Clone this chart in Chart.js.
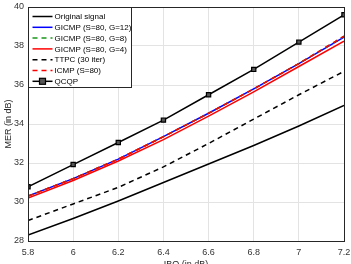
<!DOCTYPE html>
<html>
<head>
<meta charset="utf-8">
<script src="https://cdn.jsdelivr.net/npm/chart.js@4"></script>
<style>
  html, body { margin: 0; padding: 0; background: #fff; }
  #wrap { width: 351px; height: 264px; }
</style>
</head>
<body>
<div id="wrap"><canvas id="merChart" width="351" height="264"></canvas></div>
<script>
// IBO values (x axis) and MER curves
const ibo = [5.8, 6.0, 6.2, 6.4, 6.6, 6.8, 7.0, 7.2];
const original = [28.3, 29.15, 30.05, 31.0, 31.95, 32.9, 33.9, 34.95];
const gicmpG12 = [30.3, 31.2, 32.2, 33.35, 34.55, 35.8, 37.1, 38.45];
const gicmpG8 = [30.3, 31.2, 32.2, 33.35, 34.55, 35.8, 37.1, 38.5];
const gicmpG4 = [30.2, 31.1, 32.1, 33.2, 34.4, 35.65, 36.95, 38.25];
const ttpc = [29.05, 29.9, 30.75, 31.8, 33.0, 34.25, 35.5, 36.7];
const icmp = [30.3, 31.2, 32.2, 33.35, 34.55, 35.8, 37.1, 38.5];
const qcqp = [30.78, 31.92, 33.05, 34.2, 35.5, 36.8, 38.2, 39.6];
const xTicks = [5.8, 6, 6.2, 6.4, 6.6, 6.8, 7, 7.2];
const yTicks = [28, 30, 32, 34, 36, 38, 40];

const pts = arr => arr.map((v, i) => ({ x: ibo[i], y: v }));

const series = [
  { label: 'Original signal', data: original, color: '#000000', dash: [] },
  { label: 'GICMP (S=80, G=12)', data: gicmpG12, color: '#0000ff', dash: [] },
  { label: 'GICMP (S=80, G=8)', data: gicmpG8, color: '#1a961a', dash: [5, 4] },
  { label: 'GICMP (S=80, G=4)', data: gicmpG4, color: '#ff0000', dash: [] },
  { label: 'TTPC (30 iter)', data: ttpc, color: '#000000', dash: [5, 4] },
  { label: 'ICMP (S=80)', data: icmp, color: '#ff0000', dash: [5, 4] },
  { label: 'QCQP', data: qcqp, color: '#000000', dash: [], marker: true }
];

const datasets = series.map((s, i) => ({
  label: s.label,
  data: pts(s.data),
  borderColor: s.color,
  borderWidth: 1.5,
  borderDash: s.dash,
  pointRadius: s.marker ? 3 : 0,
  pointStyle: 'rect',
  pointBackgroundColor: '#555',
  pointBorderColor: '#000',
  pointBorderWidth: 1.2,
  fill: false,
  tension: 0,
  order: series.length - i
}));

// box around plot + legend in the upper-left corner (MATLAB style)
const boxLegend = {
  id: 'boxLegend',
  afterDraw(chart) {
    const c = chart.ctx, a = chart.chartArea;
    c.save();
    c.strokeStyle = '#262626';
    c.lineWidth = 1;
    c.setLineDash([]);
    c.strokeRect(Math.round(a.left) + 0.5, Math.round(a.top) + 0.5,
      Math.round(a.right - a.left), Math.round(a.bottom - a.top));

    const lx = Math.round(a.left) + 0.5, ly = Math.round(a.top) + 0.5;
    const lw = 103, lh = 80;
    c.fillStyle = '#fff';
    c.fillRect(lx, ly, lw, lh);
    c.strokeRect(lx, ly, lw, lh);
    c.font = '8px "Liberation Sans", Arial, sans-serif';
    c.textBaseline = 'middle';
    series.forEach((s, i) => {
      const y = ly + 9 + i * 10.8;
      c.strokeStyle = s.color;
      c.lineWidth = 1.5;
      c.setLineDash(s.dash);
      c.beginPath();
      c.moveTo(lx + 4, y);
      c.lineTo(lx + 24, y);
      c.stroke();
      if (s.marker) {
        c.setLineDash([]);
        c.fillStyle = '#555';
        c.fillRect(lx + 11, y - 3, 6, 6);
        c.strokeStyle = '#000';
        c.lineWidth = 1.2;
        c.strokeRect(lx + 11, y - 3, 6, 6);
      }
      c.setLineDash([]);
      c.fillStyle = '#000';
      c.fillText(s.label, lx + 26, y + 0.5);
    });
    c.restore();
  }
};

const tickFont = { family: '"Liberation Sans", Arial, sans-serif', size: 9 };

new Chart(document.getElementById('merChart').getContext('2d'), {
  type: 'line',
  data: { datasets: datasets },
  options: {
    responsive: false,
    animation: false,
    layout: { padding: { top: 7, right: 7, bottom: -6, left: 0 } },
    plugins: { legend: { display: false }, tooltip: { enabled: false } },
    scales: {
      x: {
        type: 'linear',
        min: 5.8,
        max: 7.2,
        afterBuildTicks: s => { s.ticks = xTicks.map(v => ({ value: v })); },
        ticks: { font: tickFont, color: '#333', padding: 6, maxRotation: 0,
          callback: v => String(Number(v.toFixed(1))) },
        grid: { color: '#e3e3e3', tickLength: 0, drawTicks: false },
        border: { color: '#262626' },
        title: { display: true, text: 'IBO (in dB)', font: tickFont, color: '#262626', padding: { top: 0, bottom: 0 } },
        afterFit: s => { s.height = 29; s.paddingLeft = 0; s.paddingRight = 0; }
      },
      y: {
        min: 28,
        max: 40,
        afterBuildTicks: s => { s.ticks = yTicks.map(v => ({ value: v })); },
        ticks: { font: tickFont, color: '#333', padding: 4 },
        grid: { color: '#e3e3e3', tickLength: 0, drawTicks: false },
        border: { color: '#262626' },
        title: { display: true, text: 'MER (in dB)', font: tickFont, color: '#262626', padding: { top: 3, bottom: 0 } },
        afterFit: s => { s.width = 28; s.paddingTop = 0; s.paddingBottom = 0; }
      }
    }
  },
  plugins: [boxLegend]
});
</script>
</body>
</html>
